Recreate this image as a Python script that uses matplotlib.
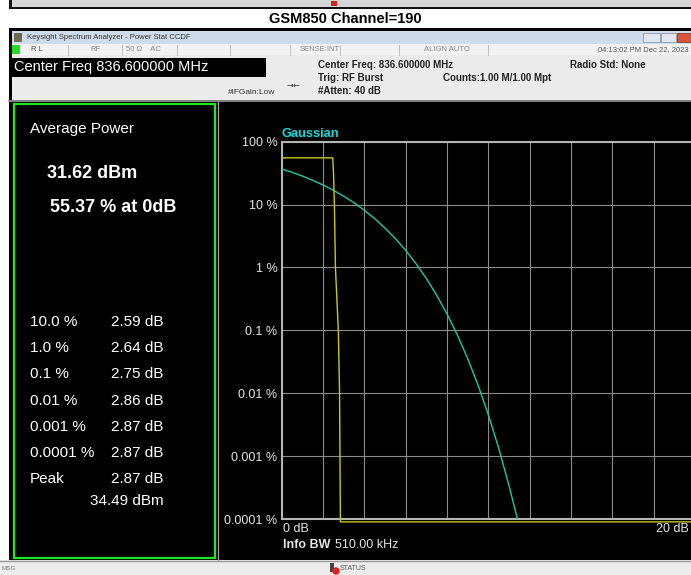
import matplotlib
matplotlib.use("Agg")
import matplotlib.pyplot as plt
from matplotlib.patches import Rectangle

plt.rcParams['font.family'] = ['Liberation Sans', 'DejaVu Sans']

# CCDF traces (x in dB above average power, y in %)
gauss_db = [0, 0.5, 1, 1.5, 2, 2.5, 3, 3.5, 4, 4.5, 5, 5.5, 6, 6.5, 7, 7.5,
            8, 8.5, 9, 9.5, 10, 10.5, 11, 11.4]
gauss_pct = [36.8, 32.6, 28.4, 24.3, 20.5, 16.9, 13.6, 10.7, 8.1, 5.97, 4.23,
             2.88, 1.87, 1.15, 0.666, 0.361, 0.182, 0.0843, 0.0355, 0.0135,
             0.00454, 0.00134, 0.00034, 0.000102]
signal_db = [0, 2.47, 2.51, 2.55, 2.60, 2.74, 2.80, 2.82, 2.84, 2.84, 20]
signal_pct = [55.37, 55.37, 30, 10, 1, 0.1, 0.01, 0.001, 0.0001, 0.00009, 0.00009]

# numbers from the left result panel
avg_dbm = 31.62
pct_at_0db = 55.37
ccdf_levels = ["10.0 %", "1.0 %", "0.1 %", "0.01 %", "0.001 %", "0.0001 %"]
ccdf_db = [2.59, 2.64, 2.75, 2.86, 2.87, 2.87]
peak_db = 2.87
peak_dbm = 34.49

y_ticks = [100, 10, 1, 0.1, 0.01, 0.001, 0.0001]
y_labels = ["100 %", "10 %", "1 %", "0.1 %", "0.01 %", "0.001 %", "0.0001 %"]

W, H = 691, 575
fig = plt.figure(figsize=(W / 100, H / 100), dpi=100, facecolor='white')

# background axes in pixel coords for the instrument window chrome
bg = fig.add_axes([0, 0, 1, 1])
bg.set_xlim(0, W)
bg.set_ylim(H, 0)
bg.axis('off')


def box(x0, y0, x1, y1, fc, ec='none', lw=0, z=1):
    bg.add_patch(Rectangle((x0, y0), x1 - x0, y1 - y0, facecolor=fc,
                           edgecolor=ec, linewidth=lw, zorder=z))


def txt(x, y, s, size=7, color='#222222', weight='normal', ha='left', **kw):
    bg.text(x, y, s, fontsize=size, color=color, fontweight=weight, ha=ha,
            va='center', **kw)


# remnant of a window above
box(9, 0, W, 9, '#111111')
box(12, 0, W, 7, '#d6d6d6', z=2)
box(331, 1, 337, 6, '#d02020', z=3)

txt(345, 19, "GSM850 Channel=190", size=10.5, color='black', weight='bold', ha='center')

# window frame
box(9, 28, W, 560, 'black')
box(12, 31, W, 44, '#cddbea', z=2)
box(14, 33, 22, 42, '#6b6b50', z=3)
txt(27, 37.5, "Keysight Spectrum Analyzer - Power Stat CCDF", size=5.5, color='#333333', zorder=3)
box(643, 33, 660, 42, '#dfe6ee', ec='#8a9aab', lw=0.6, z=3)
box(661, 33, 676, 42, '#dfe6ee', ec='#8a9aab', lw=0.6, z=3)
box(677, 33, W, 42, '#d9543f', ec='#8a3a2a', lw=0.6, z=3)

# status row
box(12, 44, W, 55, '#f2f2f2', z=2)
box(12, 45, 20, 54, '#22dd22', z=3)
for xs in [68, 122, 177, 230, 290, 340, 399, 488]:
    bg.plot([xs, xs], [44.5, 54.5], color='#b8b8b8', lw=0.6, zorder=3)
txt(31, 49.5, "R L", size=5.5, color='#555555', zorder=3)
txt(90, 49.5, "RF", size=5.5, color='#888888', zorder=3)
txt(126, 49.5, "50 Ω    AC", size=5.5, color='#888888', zorder=3)
txt(300, 49.5, "SENSE:INT", size=5.5, color='#888888', zorder=3)
txt(424, 49.5, "ALIGN AUTO", size=5.5, color='#888888', zorder=3)
txt(689, 49.5, "04:13:02 PM Dec 22, 2023", size=5.5, color='#555555', ha='right', zorder=3)

# settings panel
box(12, 55, W, 100, '#ebebeb', z=2)
box(12, 58, 266, 77, 'black', z=3)
txt(14, 67.5, "Center Freq 836.600000 MHz", size=10.5, color='white', zorder=4)
txt(228, 93, "#IFGain:Low", size=6, color='#333333', zorder=3)
txt(287, 85, "→←", size=6, color='#333333', zorder=3, family=['DejaVu Sans'])
txt(318, 65, "Center Freq: 836.600000 MHz", size=7, weight='bold', zorder=3)
txt(318, 78, "Trig: RF Burst", size=7, weight='bold', zorder=3)
txt(318, 91, "#Atten: 40 dB", size=7, weight='bold', zorder=3)
txt(443, 78, "Counts:1.00 M/1.00 Mpt", size=7, weight='bold', zorder=3)
txt(570, 65, "Radio Std: None", size=7, weight='bold', zorder=3)
bg.plot([9, W], [101, 101], color='#9a9a9a', lw=1.2, zorder=3)

# left result panel
box(14, 104, 215, 558, 'black', ec='#1ee81e', lw=1.6, z=3)
bg.plot([218, 218], [102, 560], color='#aaaaaa', lw=0.8, zorder=3)
txt(30, 129, "Average Power", size=11, color='white', zorder=4)
txt(47, 173, f"{avg_dbm:.2f} dBm", size=13, color='white', weight='bold', zorder=4)
txt(50, 208, f"{pct_at_0db:.2f} % at 0dB", size=13, color='white', weight='bold', zorder=4)
row_y = 322
for lvl, val in zip(ccdf_levels, ccdf_db):
    txt(30, row_y, lvl, size=11, color='white', zorder=4)
    txt(111, row_y, f"{val:.2f} dB", size=11, color='white', zorder=4)
    row_y += 26.2
txt(30, row_y, "Peak", size=11, color='white', zorder=4)
txt(111, row_y, f"{peak_db:.2f} dB", size=11, color='white', zorder=4)
txt(90, row_y + 21.5, f"{peak_dbm:.2f} dBm", size=11, color='white', zorder=4)

# bottom message bar
box(0, 560, W, H, '#ececec', z=2)
bg.plot([0, W], [560.5, 560.5], color='#9a9a9a', lw=1, zorder=3)
txt(2, 569, "MSG", size=4.5, color='#777777', zorder=3)
box(330, 563, 334, 572, '#444444', z=3)
bg.add_patch(plt.Circle((336, 571), 3, color='#e02020', zorder=4))
txt(340, 569, "STATUS", size=5, color='#555555', zorder=3)

# CCDF graph
left, right, top, bottom = 281.7, 695.0, 141.7, 519.0
ax = fig.add_axes([left / W, 1 - bottom / H, (right - left) / W, (bottom - top) / H])
ax.set_facecolor('black')
ax.set_yscale('log')
ax.set_xlim(0, 20)
ax.set_ylim(0.0001, 100)
ax.set_xticks(range(0, 21, 2))
ax.set_xticklabels([])
ax.set_yticks(y_ticks)
ax.set_yticklabels(y_labels)
ax.minorticks_off()
ax.tick_params(length=0, pad=3, colors='#e6e6e6', labelsize=9)
ax.grid(True, color='#8c8c8c', lw=0.8)
for sp in ax.spines.values():
    sp.set_color('#b4b4b4')
    sp.set_linewidth(1.5)

ax.plot(gauss_db, gauss_pct, color='#1fc9a4', lw=1.0, zorder=3)
ax.plot(signal_db, signal_pct, color='#c8c81a', lw=1.0, zorder=4, clip_on=False)

ax.text(0.0, 1.005, "Gaussian", transform=ax.transAxes, color='#10dcdc',
        fontsize=9.3, fontweight='bold', ha='left', va='bottom')

txt(283, 529.5, "0 dB", size=9, color='#e6e6e6', zorder=4)
txt(689, 529.5, "20 dB", size=9, color='#e6e6e6', ha='right', zorder=4)
txt(283, 545, "Info BW", size=9, color='#e6e6e6', weight='bold', zorder=4)
txt(335, 545, "510.00 kHz", size=9, color='#e6e6e6', zorder=4)

fig.savefig('out.png', dpi=100, facecolor=fig.get_facecolor())
